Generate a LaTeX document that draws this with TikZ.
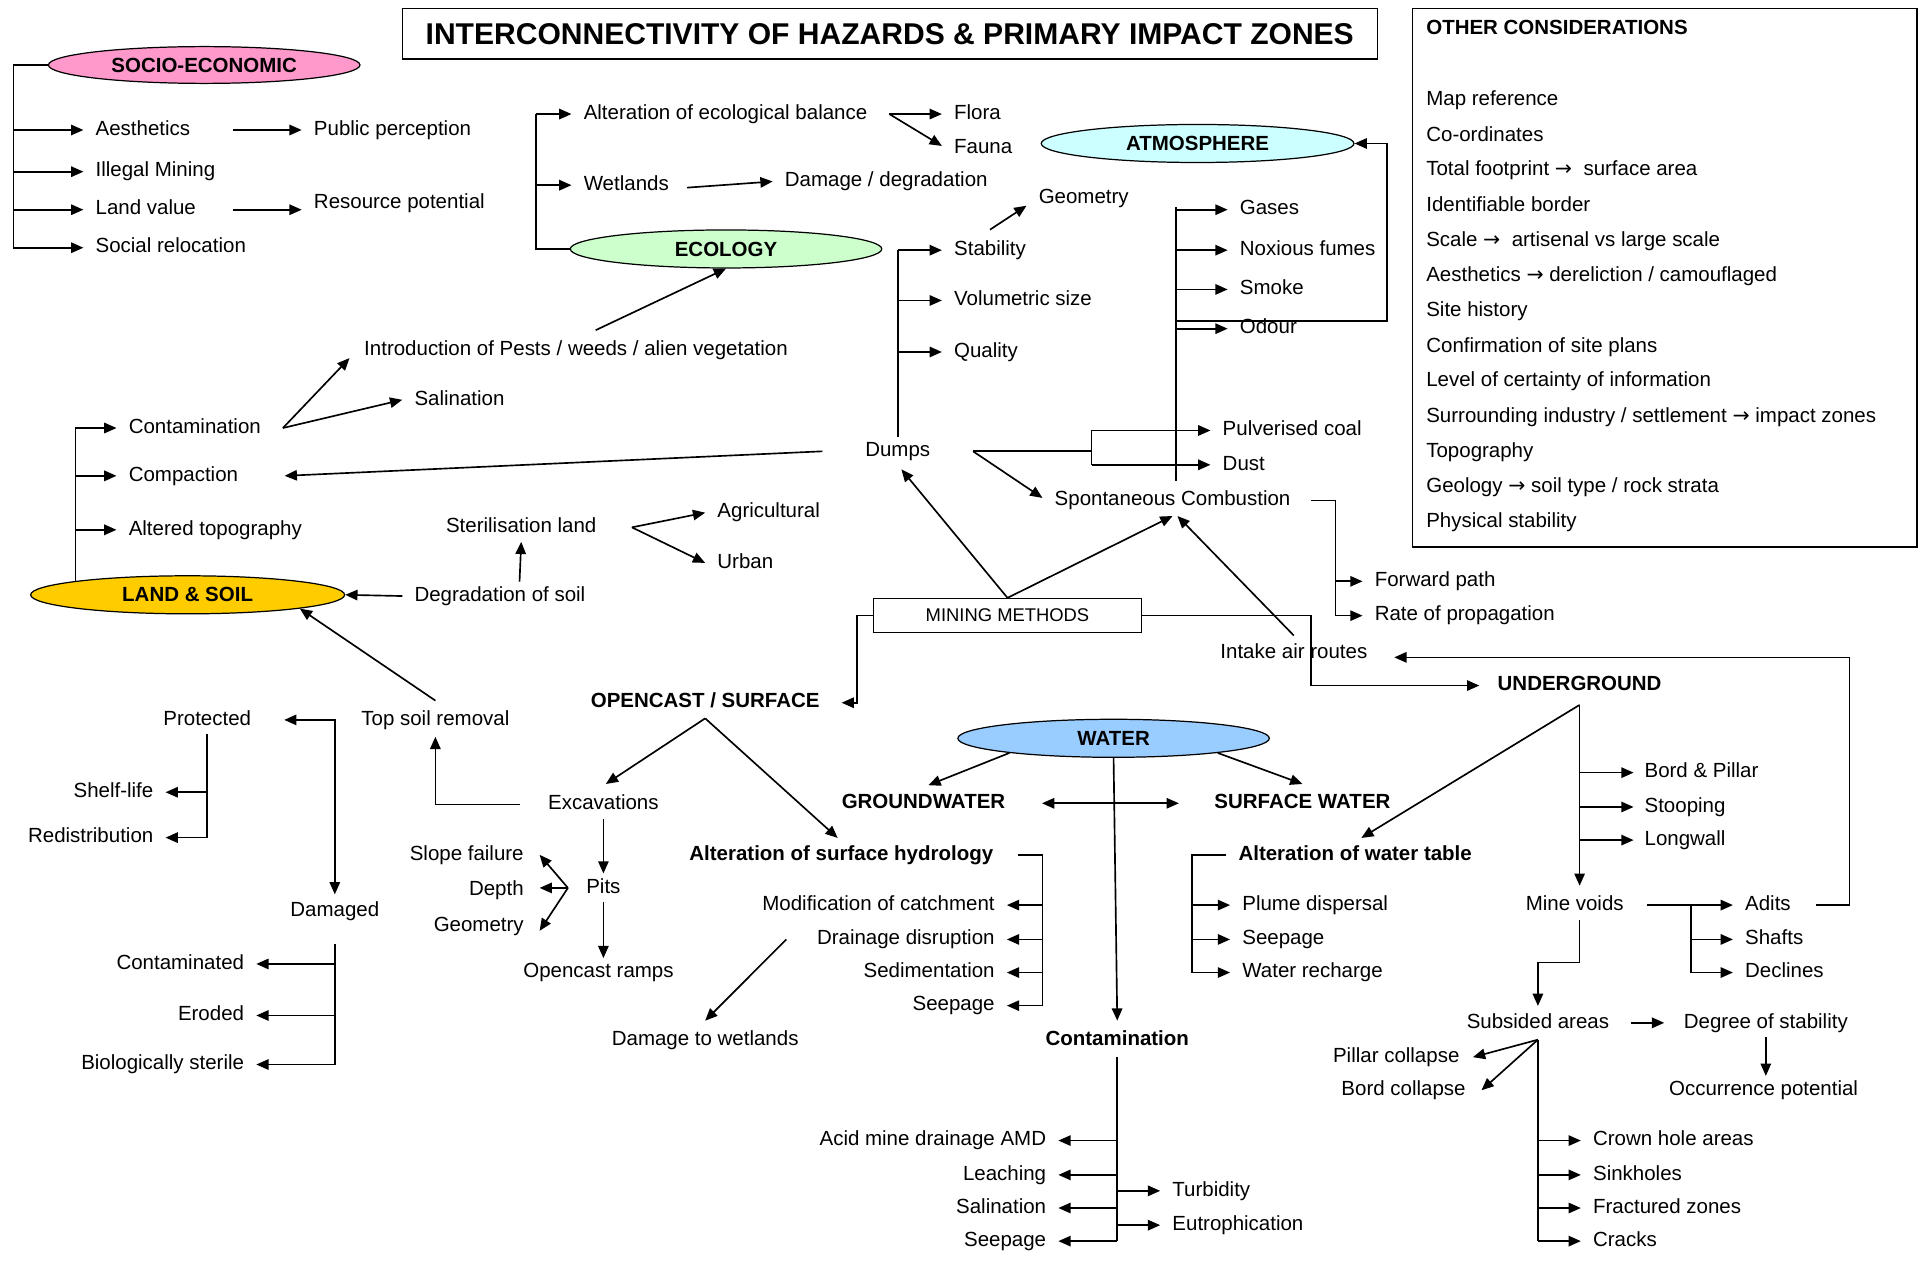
\documentclass[tikz,border=0pt]{standalone}
\usepackage{fontspec}
\setmainfont{Liberation Sans}
\newfontfamily\arrfont{DejaVu Sans}
\usetikzlibrary{arrows.meta,shapes.geometric,calc}
\definecolor{socio}{HTML}{FF99CC}
\definecolor{eco}{HTML}{CCFFCC}
\definecolor{atm}{HTML}{CCFFFF}
\definecolor{land}{HTML}{FFCC00}
\definecolor{wat}{HTML}{99CCFF}
\newcommand{\myfs}{\fontsize{16.7}{20}\selectfont}
\newcommand{\rarr}{{\arrfont →}}
\begin{document}
\begin{tikzpicture}[x=1pt,y=-1pt,line width=1.35pt,
  >={Triangle[length=10pt,width=8.5pt]},
  t/.style={font=\myfs, inner xsep=10pt, inner ysep=4pt, outer sep=0pt, text height=12pt, text depth=3.5pt, yshift=-2pt},
  tb/.style={t, font=\myfs\bfseries},
  L/.style={anchor=west, xshift=-10pt},
  R/.style={anchor=east, xshift=10pt},
  zone/.style={ellipse, draw, line width=1pt, inner sep=0pt, minimum width=254pt, minimum height=31pt, font=\myfs\bfseries},
  box/.style={draw, line width=1pt, inner sep=0pt},
]
\useasboundingbox (0,0) rectangle (1568,1035);
\fill[white] (0,0) rectangle (1568,1035);

% ---------- title and other considerations
\node[box, line width=1.2pt, minimum width=795pt, minimum height=41pt, font=\fontsize{24.5}{29}\selectfont\bfseries] (title) at (725.5,27.5) {INTERCONNECTIVITY OF HAZARDS \& PRIMARY IMPACT ZONES};
\node[box, minimum width=411pt, minimum height=439pt] (ocbox) at (1357.5,226.5) {};
\node[tb,L] (octitle) at (1163,22) {OTHER CONSIDERATIONS};
\node[t,L] (oc1) at (1163,80) {Map reference};
\node[t,L] (oc2) at (1163,109) {Co-ordinates};
\node[t,L] (oc3) at (1163,137) {Total footprint \rarr\ \ surface area};
\node[t,L] (oc4) at (1163,166) {Identifiable border};
\node[t,L] (oc5) at (1163,195) {Scale \rarr\ \ artisenal vs large scale};
\node[t,L] (oc6) at (1163,223) {Aesthetics \rarr\ dereliction / camouflaged};
\node[t,L] (oc7) at (1163,252) {Site history};
\node[t,L] (oc8) at (1163,281) {Confirmation of site plans};
\node[t,L] (oc9) at (1163,309) {Level of certainty of information};
\node[t,L] (oc10) at (1163,338) {Surrounding industry / settlement \rarr\ impact zones};
\node[t,L] (oc11) at (1163,367) {Topography};
\node[t,L] (oc12) at (1163,395) {Geology \rarr\ soil type / rock strata};
\node[t,L] (oc13) at (1163,424) {Physical stability};

% ---------- SOCIO-ECONOMIC
\node[zone, fill=socio, minimum height=30pt] (se) at (166.5,53) {SOCIO-ECONOMIC};
\node[t,L] (aes) at (78,104) {Aesthetics};
\node[t,L] (ill) at (78,138) {Illegal Mining};
\node[t,L] (lv) at (78,169) {Land value};
\node[t,L] (sr) at (78,200) {Social relocation};
\node[t,L] (pp) at (256,104) {Public perception};
\node[t,L] (rp) at (256,164) {Resource potential};
\coordinate (seS) at (11,53);
\draw (se.west) -- (seS) -- (seS |- sr.west);
\foreach \n in {aes,ill,lv,sr} \draw[->] (seS |- \n.west) -- (\n.west);
\draw[->] ([xshift=25pt]aes.east) -- (pp.west);
\draw[->] ([xshift=20pt]lv.east) -- (lv.east -| rp.west);

% ---------- ECOLOGY
\node[zone, fill=eco] (eco) at (592,203) {ECOLOGY};
\node[t,L] (aeb) at (476,91) {Alteration of ecological balance};
\node[t,L] (wet) at (476,149) {Wetlands};
\node[t,L] (flora) at (778,91) {Flora};
\node[t,L] (fauna) at (778,119) {Fauna};
\node[t,L] (dd) at (640,146) {Damage / degradation};
\node[t,L] (intro) at (297,284) {Introduction of Pests / weeds / alien vegetation};
\coordinate (ecoS) at (437,203);
\draw (eco.west) -- (ecoS) -- (ecoS |- aeb.west);
\draw[->] (ecoS |- aeb.west) -- (aeb.west);
\draw[->] (ecoS |- wet.west) -- (wet.west);
\draw[->] ([xshift=8pt]aeb.east) -- (flora.west);
\draw[->] ([xshift=8pt]aeb.east) -- ([yshift=2pt]fauna.west);
\draw[->] ([xshift=5pt,yshift=-2pt]wet.east) -- (dd.west);
\draw[->] ([xshift=16pt,yshift=5pt]intro.north) -- (eco.south);

% ---------- ATMOSPHERE
\node[zone, fill=atm, minimum width=255pt] (atm) at (976.5,117) {ATMOSPHERE};
\node[t,L] (gas) at (1011,169) {Gases};
\node[t,L] (nox) at (1011,202) {Noxious fumes};
\node[t,L] (smk) at (1011,234) {Smoke};
\node[t,L] (odr) at (1011,266) {Odour};
\coordinate (atS) at (959,169);
\coordinate (atB) at (959,392);
\coordinate (atR) at (1131,262);
\draw (atS) -- (atB);
\foreach \n in {gas,nox,smk,odr} \draw[->] (atS |- \n.west) -- (\n.west);
\draw[->] (atS |- atR) -- (atR) |- (atm.east);

% ---------- DUMPS
\node[t] (dumps) at (732,366) {Dumps};
\node[t,L] (stab) at (778,202) {Stability};
\node[t,L] (vol) at (778,243) {Volumetric size};
\node[t,L] (qual) at (778,285) {Quality};
\node[t,L] (geo1) at (847,160) {Geometry};
\coordinate (duS) at (732,206);
\draw (dumps.north) -- (duS |- stab.west);
\foreach \n in {stab,vol,qual} \draw[->] (duS |- \n.west) -- (\n.west);
\draw[->] ([yshift=5pt]stab.north) -- ([yshift=6pt]geo1.south west);

\node[t,L] (pc) at (997,349) {Pulverised coal};
\node[t,L] (dust) at (997,377) {Dust};
\node[t,L] (sc) at (860,406) {Spontaneous Combustion};
\coordinate (duR) at ([xshift=25pt]dumps.east);
\coordinate (pcS) at (890,368);
\draw (duR) -- (pcS);
\draw (pcS |- pc.west) -- (pcS |- dust.west);
\draw[->] (pcS |- pc.west) -- (pc.west);
\draw[->] (pcS |- dust.west) -- (dust.west);
\draw[->] (duR) -- ([yshift=2pt]sc.west);

\node[t,L] (fp) at (1121,472) {Forward path};
\node[t,L] (rop) at (1121,500) {Rate of propagation};
\coordinate (scS) at (1089,408);
\draw ([xshift=7pt]sc.east) -- (scS) -- (scS |- rop.west);
\draw[->] (scS |- fp.west) -- (fp.west);
\draw[->] (scS |- rop.west) -- (rop.west);

% ---------- MINING METHODS
\node[box, minimum width=219pt, minimum height=28pt, font=\fontsize{15}{18}\selectfont] (mm) at (821.5,502) {MINING METHODS};
\node[tb] (ocs) at (575,571) {OPENCAST / SURFACE};
\node[tb] (ug) at (1288,557) {UNDERGROUND};
\node[t] (iar) at (1055,531) {Intake air routes};
\draw[->] (mm.north) -- ([xshift=3pt,yshift=-3pt]dumps.south);
\draw[->] (mm.north) -- ([yshift=-1pt]sc.south);
\coordinate (mmL) at (699,502);
\coordinate (mmR) at (1069,502);
\draw[->] (mm.west) -- (mmL) |- ([xshift=8pt]ocs.east);
\draw[->] (mm.east) -- (mmR) |- ([xshift=-5pt]ug.west);
\draw[->] ([yshift=3pt]iar.north) -- ([xshift=4pt,yshift=-1pt]sc.south);

% ---------- LAND & SOIL
\node[zone, fill=land, minimum width=256pt] (ls) at (153,485) {LAND \& SOIL};
\node[t,L] (cont) at (105,347) {Contamination};
\node[t,L] (comp) at (105,386) {Compaction};
\node[t,L] (alt) at (105,430) {Altered topography};
\node[t,L] (sal) at (338,324) {Salination};
\node[t,L] (deg) at (338,484) {Degradation of soil};
\node[t] (ster) at (425,428) {Sterilisation land};
\node[t,L] (agr) at (585,416) {Agricultural};
\node[t,L] (urb) at (585,457) {Urban};
\coordinate (lsT) at (ls.173);
\draw (lsT) -- (lsT |- cont.west);
\foreach \n in {cont,comp,alt} \draw[->] (lsT |- \n.west) -- (\n.west);
\draw[->] ([xshift=8pt]cont.east) -- ([xshift=-2pt,yshift=-6pt]intro.west);
\draw[->] ([xshift=8pt]cont.east) -- (sal.west);
\draw[->] ([xshift=-25pt]dumps.west) -- ([xshift=28pt]comp.east);
\draw[->] (deg.west) -- (ls.east);
\draw[->] ([xshift=16pt]deg.north) -- (ster.south);
\draw[->] ([xshift=19pt]ster.east) -- (agr.west);
\draw[->] ([xshift=19pt]ster.east) -- (urb.west);

% ---------- TOP SOIL / OPENCAST
\node[t] (tsr) at (355,585) {Top soil removal};
\node[t] (exc) at (492,654) {Excavations};
\node[t] (prot) at (169,585) {Protected};
\node[t] (dmg) at (273,741) {Damaged};
\node[t,R] (shelf) at (125,644) {Shelf-life};
\node[t,R] (redis) at (125,681) {Redistribution};
\node[t,R] (ctd) at (199,784) {Contaminated};
\node[t,R] (ero) at (199,826) {Eroded};
\node[t,R] (bio) at (199,866) {Biologically sterile};
\draw[->] ([yshift=4pt]tsr.north) -- (ls.-7);
\draw[->] ([xshift=-13pt]exc.west) -| ([yshift=-2pt]tsr.south);
\draw[<->] ([xshift=17pt]prot.east) -| ([yshift=2pt]dmg.north);
\draw (prot.south) -- (prot.south |- redis.east);
\foreach \n in {shelf,redis} \draw[->] (prot.south |- \n.east) -- (\n.east);
\coordinate (dmS) at ([yshift=-15pt]dmg.south);
\draw (dmS) -- (dmS |- bio.east);
\foreach \n in {ctd,ero,bio} \draw[->] (dmS |- \n.east) -- (\n.east);

\node[t] (pits) at (492,722) {Pits};
\node[t] (ramps) at (488,791) {Opencast ramps};
\node[t,R] (slope) at (427,695) {Slope failure};
\node[t,R] (depth) at (427,724) {Depth};
\node[t,R] (geo2) at (427,753) {Geometry};
\draw[->] (exc.south) -- (pits.north);
\draw[->] (pits.south) -- (pits.south |- ramps.north);
\coordinate (pitA) at ([xshift=-5pt]pits.west);
\draw[->] (pitA) -- ([xshift=3pt]slope.east);
\draw[->] (pitA) -- ([xshift=3pt,yshift=2pt]depth.east);
\draw[->] (pitA) -- ([xshift=3pt,yshift=-4pt]geo2.east);

% ---------- WATER
\node[zone, fill=wat] (wat) at (908,602) {WATER};
\node[tb] (gw) at (753,653) {GROUNDWATER};
\node[tb] (sw) at (1062,653) {SURFACE WATER};
\node[tb] (ash) at (686,695) {Alteration of surface hydrology};
\node[t,R] (modc) at (811,736) {Modification of catchment};
\node[t,R] (drain) at (811,764) {Drainage disruption};
\node[t,R] (sedi) at (811,791) {Sedimentation};
\node[t,R] (seepa) at (811,818) {Seepage};
\node[t] (dtw) at (575,846) {Damage to wetlands};
\node[tb] (awt) at (1105,695) {Alteration of water table};
\node[t,L] (plume) at (1013,736) {Plume dispersal};
\node[t,L] (seepb) at (1013,764) {Seepage};
\node[t,L] (wrech) at (1013,791) {Water recharge};
\node[tb] (wcont) at (911,846) {Contamination};
\draw[->] ([yshift=-1pt]ocs.south) -- ([xshift=2pt,yshift=5pt]exc.north);
\draw[->] ([yshift=-1pt]ocs.south) -- ([xshift=-3pt,yshift=2pt]ash.north);
\draw[->] (wat.188) -- ([xshift=4pt,yshift=3pt]gw.north);
\draw[->] (wat.-8) -- ([yshift=4pt]sw.north);
\draw[<->] ([xshift=20pt]gw.east) -- ([xshift=-19pt]sw.west);
\draw[->] (wat.south) -- ([yshift=4pt]wcont.north);
\coordinate (ashS) at (850,697);
\draw ([xshift=10pt]ash.east) -- (ashS) -- (ashS |- seepa.east);
\foreach \n in {modc,drain,sedi,seepa} \draw[->] (ashS |- \n.east) -- (\n.east);
\draw[->] ([xshift=-15pt]drain.west) -- ([yshift=4pt]dtw.north);
\coordinate (awtS) at (972,697);
\draw (awt.west) -- (awtS) -- (awtS |- wrech.west);
\foreach \n in {plume,seepb,wrech} \draw[->] (awtS |- \n.west) -- (\n.west);

% ---------- UNDERGROUND
\node[t] (mv) at (1284,736) {Mine voids};
\node[t,L] (bp) at (1341,628) {Bord \& Pillar};
\node[t,L] (stoop) at (1341,656) {Stooping};
\node[t,L] (longw) at (1341,683) {Longwall};
\node[t,L] (adits) at (1423,736) {Adits};
\node[t,L] (shafts) at (1423,764) {Shafts};
\node[t,L] (decl) at (1423,791) {Declines};
\coordinate (ugB) at ([yshift=-4pt]ug.south);
\draw[->] (ugB) -- ([xshift=5pt,yshift=2pt]awt.north);
\draw[->] (ugB) -- ($(ugB |- mv.north)+(0,-4)$);
\foreach \n in {bp,stoop,longw} \draw[->] (ugB |- \n.west) -- ([xshift=1pt]\n.west);
\coordinate (mvS) at (1379,738);
\draw ([xshift=9pt]mv.east) -- (mvS) -- (mvS |- decl.west);
\foreach \n in {adits,shafts,decl} \draw[->] (mvS |- \n.west) -- (\n.west);
\coordinate (adR) at (1508,738);
\draw[->] ([xshift=11pt]adits.east) -- (adR) |- ([xshift=12pt,yshift=-3pt]iar.east);

\node[t] (sub) at (1254,832) {Subsided areas};
\node[t,L] (dos) at (1373,832) {Degree of stability};
\node[t] (occ) at (1438,887) {Occurrence potential};
\node[t,R] (pill) at (1190,860) {Pillar collapse};
\node[t,R] (bordc) at (1195,887) {Bord collapse};
\node[t,L] (crown) at (1299,928) {Crown hole areas};
\node[t,L] (sink) at (1299,956) {Sinkholes};
\node[t,L] (frac) at (1299,983) {Fractured zones};
\node[t,L] (crack) at (1299,1010) {Cracks};
\draw[->] ([xshift=4pt]mv.south) -- ++(0,35) -| ([yshift=2pt]sub.north);
\draw[->] ([xshift=8pt]sub.east) -- ([xshift=-6pt]dos.west);
\draw[->] (dos.south) -- (dos.south |- occ.north);
\coordinate (subA) at ([yshift=-2pt]sub.south);
\draw[->] (subA) -- ([xshift=1pt]pill.east);
\draw[->] (subA) -- ([xshift=3pt]bordc.east);
\draw (subA) -- (subA |- crack.west);
\foreach \n in {crown,sink,frac,crack} \draw[->] (subA |- \n.west) -- (\n.west);

% ---------- WATER CONTAMINATION
\node[t,R] (amd) at (853,928) {Acid mine drainage AMD};
\node[t,R] (leach) at (853,956) {Leaching};
\node[t,R] (salb) at (853,983) {Salination};
\node[t,R] (seepc) at (853,1010) {Seepage};
\node[t,L] (turb) at (956,969) {Turbidity};
\node[t,L] (eut) at (956,997) {Eutrophication};
\coordinate (wcB) at ([yshift=-2pt]wcont.south);
\draw (wcB) -- (wcB |- seepc.east);
\foreach \n in {amd,leach,salb,seepc} \draw[->] (wcB |- \n.east) -- (\n.east);
\foreach \n in {turb,eut} \draw[->] (wcB |- \n.west) -- (\n.west);
\end{tikzpicture}
\end{document}
